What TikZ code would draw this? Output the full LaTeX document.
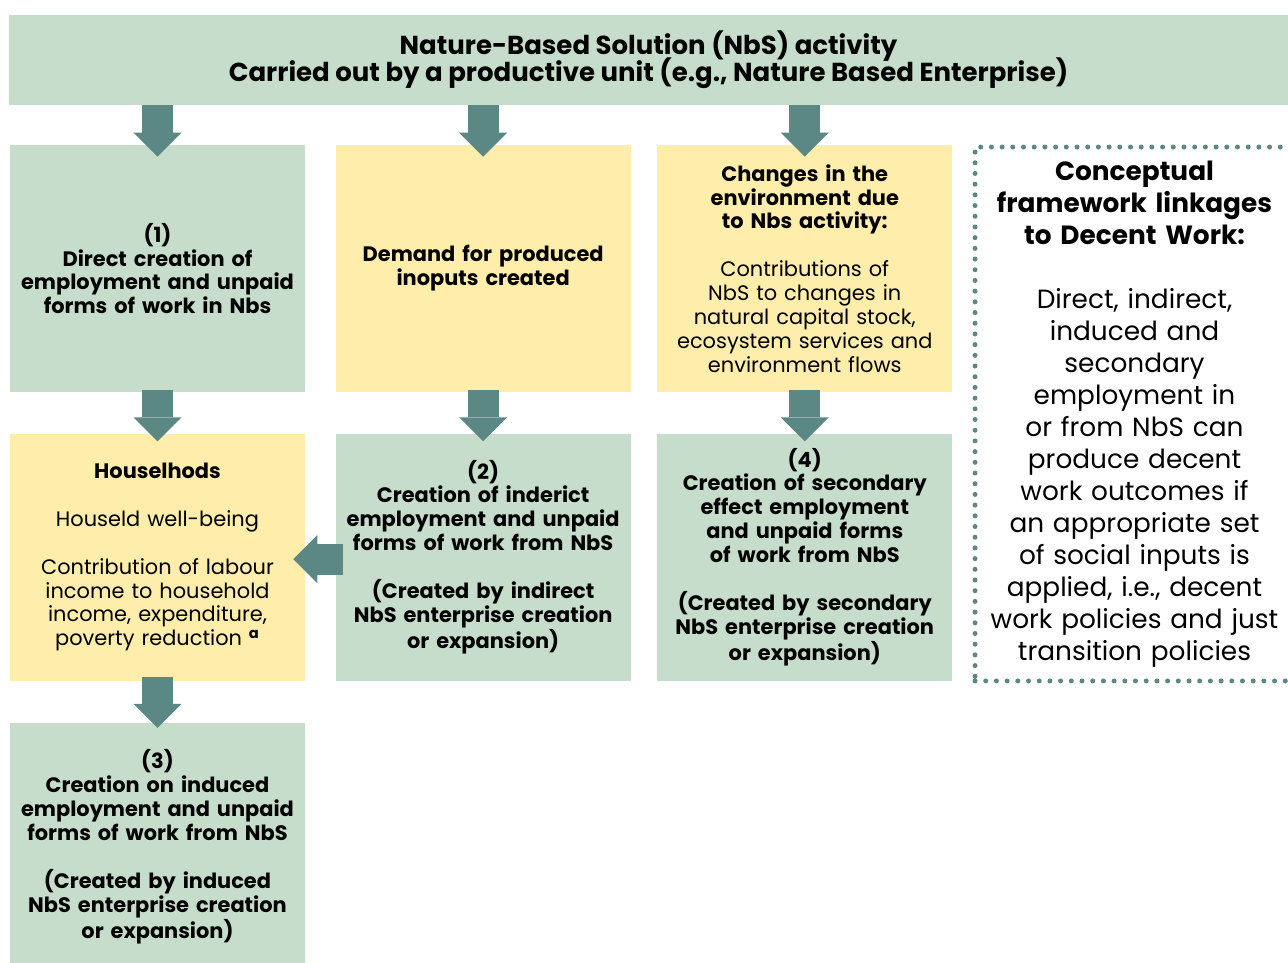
\documentclass[tikz,border=0pt]{standalone}
\usepackage{fontspec}
\setmainfont{Poppins}
\usepackage{xcolor}
\usepackage{tikz}
\usetikzlibrary{positioning,arrows.meta}

\definecolor{nbsgreen}{HTML}{C6DDCC}
\definecolor{nbsyellow}{HTML}{FEEDAB}
\definecolor{nbsteal}{HTML}{5B8785}

\begin{document}
\begin{tikzpicture}[x=0.02cm,y=-0.02cm,node distance=0.82cm and 0.6cm]

  
  \tikzstyle{box}=[minimum width=5.9cm,minimum height=4.94cm,text width=5.6cm,inner sep=0pt,align=center,font=\fontsize{11.9}{13.6}\selectfont]
  \tikzstyle{greenbox}=[box,fill=nbsgreen]
  \tikzstyle{yellowbox}=[box,fill=nbsyellow]
  \tikzstyle{blockarrow}=[draw=nbsteal,line width=0.62cm,-{Triangle[length=0.48cm,width=0.96cm,line width=0pt,color=nbsteal]}]
  \tikzstyle{dotbox}=[draw=nbsteal,line width=0.1cm,line cap=round,dash pattern=on 0pt off 0.214cm,minimum width=6.38cm,minimum height=10.68cm,text width=6.1cm,inner sep=0pt,align=center,font=\fontsize{15}{18.2}\selectfont]

  \useasboundingbox (0,0) rectangle (1288,963);

  
  \node[fill=nbsgreen,minimum width=25.58cm,minimum height=1.8cm,inner sep=0pt,align=center,font=\bfseries\fontsize{14.8}{15.4}\selectfont\setlength{\lineskiplimit}{-20pt}] (nbs) at (648.5,60) {Nature-Based Solution (NbS) activity\\Carried out by a productive unit (e.g., Nature Based Enterprise)};

  
  \node[greenbox] (direct) at (157.5,268.5) {\bfseries (1)\\Direct creation of\\employment and unpaid\\forms of work in Nbs};
  \node[yellowbox,right=0.6cm of direct] (demand) {\bfseries Demand for produced\\inoputs created};
  \node[yellowbox,right=0.52cm of demand] (env) {\bfseries Changes in the\\environment due\\to Nbs activity:\\[13.6pt]\mdseries Contributions of\\NbS to changes in\\natural capital stock,\\ecosystem services and\\environment flows};

  \node[yellowbox,below=of direct] (house) {\bfseries Houselhods\\[13.6pt]\mdseries Houseld well-being\\[13.6pt]Contribution of labour\\income to household\\income, expenditure,\\poverty reduction \textsuperscript{\bfseries a}};
  \node[greenbox,below=of demand] (indirect) {\bfseries (2)\\Creation of inderict\\employment and unpaid\\forms of work from NbS\\[13.6pt](Created by indirect\\NbS enterprise creation\\or expansion)};
  \node[greenbox,below=of env] (secondary) {\bfseries (4)\\Creation of secondary\\effect employment\\and unpaid forms\\of work from NbS\\[13.6pt](Created by secondary\\NbS enterprise creation\\or expansion)};

  \node[greenbox,below=0.84cm of house] (induced) {\bfseries (3)\\Creation on induced\\employment and unpaid\\forms of work from NbS\\[13.6pt](Created by induced\\NbS enterprise creation\\or expansion)};

  
  \node[dotbox] (decent) at (1134.5,414) {\bfseries Conceptual\\framework linkages\\to Decent Work:\\[18.2pt]\mdseries Direct, indirect,\\induced and\\secondary\\employment in\\or from NbS can\\produce decent\\work outcomes if\\an appropriate set\\of social inputs is\\applied, i.e., decent\\work policies and just\\transition policies};

  
  \draw[blockarrow] (nbs.south -| direct) -- ([yshift=-0.24cm]direct.north);
  \draw[blockarrow] (nbs.south -| demand) -- ([yshift=-0.24cm]demand.north);
  \draw[blockarrow] (nbs.south -| env) -- ([yshift=-0.24cm]env.north);
  \draw[blockarrow] ([yshift=0.04cm]direct.south) -- ([yshift=-0.16cm]house.north);
  \draw[blockarrow] ([yshift=0.04cm]demand.south) -- ([yshift=-0.16cm]indirect.north);
  \draw[blockarrow] ([yshift=0.04cm]env.south) -- ([yshift=-0.16cm]secondary.north);
  \draw[blockarrow] ([yshift=0.08cm]house.south) -- ([yshift=-0.1cm]induced.north);
  \draw[blockarrow] ([xshift=0.16cm,yshift=-0.04cm]indirect.west) -- ([xshift=-0.24cm,yshift=-0.04cm]house.east);

\end{tikzpicture}
\end{document}
